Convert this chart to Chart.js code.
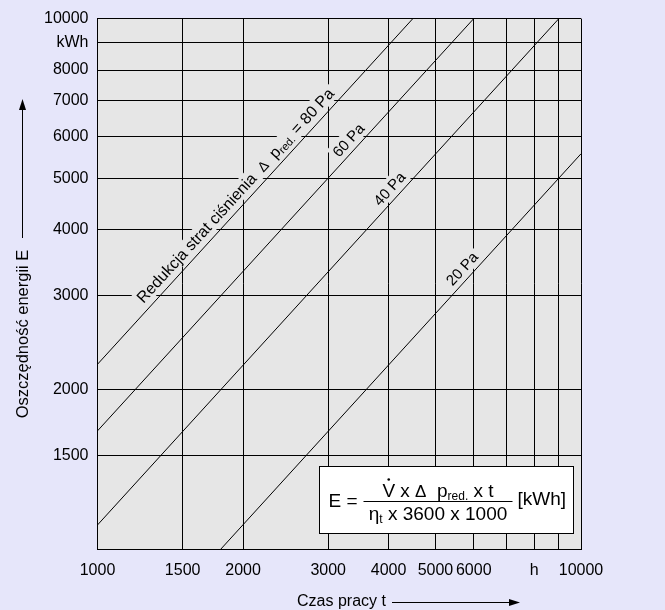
<!DOCTYPE html>
<html>
<head>
<meta charset="utf-8">
<script src="https://cdn.jsdelivr.net/npm/chart.js@4.4.0/dist/chart.umd.min.js"></script>
<style>
  html, body { margin: 0; padding: 0; background: #e6e6fa; }
</style>
</head>
<body>
<canvas id="energyChart" width="665" height="610"></canvas>
<script>
// axis ticks (log scales)
const hourTicks = [1000, 1500, 2000, 3000, 4000, 5000, 6000, 7000, 8000, 9000, 10000];
const hourTickLabels = ["1000", "1500", "2000", "3000", "4000", "5000", "6000", "", "h", "", "10000"];
const energyTicks = [1000, 1500, 2000, 3000, 4000, 5000, 6000, 7000, 8000, 9000, 10000];
const energyTickLabels = ["", "1500", "2000", "3000", "4000", "5000", "6000", "7000", "8000", "kWh", "10000"];

// pressure loss reduction lines
const seriesNames = ["80 Pa", "60 Pa", "40 Pa", "20 Pa"];
const hours80 = [1000, 4490];
const energy80 = [2230, 10000];
const hours60 = [1000, 6000];
const energy60 = [1670, 10000];
const hours40 = [1000, 9000];
const energy40 = [1110, 10000];
const hours20 = [1800, 10000];
const energy20 = [1000, 5560];

const FONT = '"Liberation Sans", Arial, sans-serif';
const PLOT_BG = "#e6e6e6";

function toPoints(hours, energy) {
  return hours.map((h, i) => ({ x: h, y: energy[i] }));
}

function drawRuns(ctx, runs, x, y, align) {
  let w = 0;
  runs.forEach((r) => {
    ctx.font = r.size + "px " + FONT;
    r.w = ctx.measureText(r.text).width;
    w += r.w;
  });
  let cx = align === "center" ? x - w / 2 : x;
  ctx.textAlign = "left";
  runs.forEach((r) => {
    ctx.font = r.size + "px " + FONT;
    ctx.fillText(r.text, cx, y + (r.dy || 0));
    r.x = cx;
    cx += r.w;
  });
  return w;
}

// where each label sits along its line (hours) and how far off the line (px)
const lineLabels = [
  {
    hours: 2010, offset: 12,
    runs: [
      { text: "Redukcja strat ciśnienia  ", size: 16 },
      { text: "Δ", size: 14 },
      { text: "  p", size: 16 },
      { text: "red.", size: 11, dy: 2 },
      { text: " = 80 Pa", size: 16 },
    ],
  },
  { hours: 3430, offset: 11, runs: [{ text: "60 Pa", size: 15 }] },
  { hours: 4170, offset: 11, runs: [{ text: "40 Pa", size: 15 }] },
  { hours: 5890, offset: 11, runs: [{ text: "20 Pa", size: 15 }] },
];

const backgroundPlugin = {
  id: "plotBackground",
  beforeDraw(chart) {
    const { ctx, chartArea: a } = chart;
    ctx.save();
    ctx.fillStyle = PLOT_BG;
    ctx.fillRect(a.left, a.top, a.right - a.left, a.bottom - a.top);
    ctx.restore();
  },
};

const lineLabelPlugin = {
  id: "lineLabels",
  beforeDatasetsDraw(chart) {
    const { ctx } = chart;
    const xs = chart.scales.x;
    const ys = chart.scales.y;
    chart.data.datasets.forEach((ds, i) => {
      const lab = lineLabels[i];
      const a = ds.data[0];
      const b = ds.data[1];
      const f = (Math.log(lab.hours) - Math.log(a.x)) / (Math.log(b.x) - Math.log(a.x));
      const e = Math.exp(Math.log(a.y) + f * (Math.log(b.y) - Math.log(a.y)));
      const px = xs.getPixelForValue(lab.hours);
      const py = ys.getPixelForValue(e);
      const p1x = xs.getPixelForValue(a.x), p1y = ys.getPixelForValue(a.y);
      const p2x = xs.getPixelForValue(b.x), p2y = ys.getPixelForValue(b.y);
      const theta = Math.atan2(p2y - p1y, p2x - p1x);
      const ux = Math.cos(theta), uy = Math.sin(theta);
      const cx = px + uy * lab.offset;
      const cy = py - ux * lab.offset;

      ctx.save();
      ctx.translate(cx, cy);
      ctx.rotate(theta);
      let w = 0;
      lab.runs.forEach((r) => {
        ctx.font = r.size + "px " + FONT;
        w += ctx.measureText(r.text).width;
      });
      ctx.fillStyle = PLOT_BG;
      ctx.fillRect(-w / 2 - 3, -9, w + 6, 18);
      ctx.fillStyle = "#000";
      ctx.textBaseline = "alphabetic";
      drawRuns(ctx, lab.runs, 0, 5.5, "center");
      ctx.restore();
    });
  },
};

const formulaPlugin = {
  id: "formula",
  afterDatasetsDraw(chart) {
    const { ctx, chartArea: a } = chart;
    const left = Math.round(a.right - 262) + 0.5;
    const top = Math.round(a.bottom - 83) + 0.5;
    const w = 254, h = 67;
    ctx.save();
    ctx.fillStyle = "#fff";
    ctx.fillRect(left, top, w, h);
    ctx.strokeStyle = "#000";
    ctx.lineWidth = 1;
    ctx.strokeRect(left, top, w, h);

    ctx.fillStyle = "#000";
    ctx.textBaseline = "alphabetic";
    drawRuns(ctx, [{ text: "E =", size: 19 }], left + 9, top + 40.5, "left");

    const barL = left + 44, barR = left + 193, barY = top + 35;
    ctx.beginPath();
    ctx.moveTo(barL, barY);
    ctx.lineTo(barR, barY);
    ctx.stroke();
    const mid = (barL + barR) / 2;

    const num = [
      { text: "V", size: 19 },
      { text: " x ", size: 19 },
      { text: "Δ", size: 17 },
      { text: "  p", size: 19 },
      { text: "red.", size: 12, dy: 3 },
      { text: " x t", size: 19 },
    ];
    drawRuns(ctx, num, mid, top + 30, "center");
    // dot over V (volume flow)
    ctx.beginPath();
    ctx.arc(num[0].x + num[0].w / 2, top + 13, 1.3, 0, Math.PI * 2);
    ctx.fill();

    const den = [
      { text: "η", size: 19 },
      { text: "t", size: 12, dy: 3 },
      { text: " x 3600 x 1000", size: 19 },
    ];
    drawRuns(ctx, den, mid, top + 53, "center");

    drawRuns(ctx, [{ text: "[kWh]", size: 19 }], barR + 5, top + 38, "left");
    ctx.restore();
  },
};

const axisTitlePlugin = {
  id: "axisTitles",
  afterDraw(chart) {
    const { ctx } = chart;
    ctx.save();
    ctx.fillStyle = "#000";
    ctx.strokeStyle = "#000";
    ctx.lineWidth = 1;

    // y title with arrow pointing up
    ctx.save();
    ctx.translate(23, 334);
    ctx.rotate(-Math.PI / 2);
    ctx.font = "16.5px " + FONT;
    ctx.textAlign = "center";
    ctx.textBaseline = "middle";
    ctx.fillText("Oszczędność energii E", 0, 0);
    ctx.restore();
    ctx.beginPath();
    ctx.moveTo(22.5, 238);
    ctx.lineTo(22.5, 106);
    ctx.stroke();
    ctx.beginPath();
    ctx.moveTo(22.5, 99);
    ctx.lineTo(19, 110);
    ctx.lineTo(26, 110);
    ctx.closePath();
    ctx.fill();

    // x title with arrow pointing right
    ctx.font = "16px " + FONT;
    ctx.textAlign = "left";
    ctx.textBaseline = "middle";
    ctx.fillText("Czas pracy t", 297, 602);
    ctx.beginPath();
    ctx.moveTo(392, 602.5);
    ctx.lineTo(512, 602.5);
    ctx.stroke();
    ctx.beginPath();
    ctx.moveTo(520, 602.5);
    ctx.lineTo(509, 599);
    ctx.lineTo(509, 606);
    ctx.closePath();
    ctx.fill();
    ctx.restore();
  },
};

function makeDataset(name, hours, energy) {
  return {
    label: name,
    data: toPoints(hours, energy),
    showLine: true,
    borderColor: "#000",
    borderWidth: 1,
    pointRadius: 0,
    fill: false,
    tension: 0,
  };
}

const ctx = document.getElementById("energyChart").getContext("2d");

new Chart(ctx, {
  type: "scatter",
  data: {
    datasets: [
      makeDataset(seriesNames[0], hours80, energy80),
      makeDataset(seriesNames[1], hours60, energy60),
      makeDataset(seriesNames[2], hours40, energy40),
      makeDataset(seriesNames[3], hours20, energy20),
    ],
  },
  options: {
    responsive: false,
    animation: false,
    events: [],
    layout: { padding: { top: 17, right: 84, left: 0, bottom: 0 } },
    plugins: {
      legend: { display: false },
      tooltip: { enabled: false },
    },
    scales: {
      x: {
        type: "logarithmic",
        min: 1000,
        max: 10000,
        afterBuildTicks: (s) => {
          s.ticks = hourTicks.map((v) => ({ value: v }));
        },
        afterFit: (s) => {
          s.height = 61;
        },
        ticks: {
          autoSkip: false,
          maxRotation: 0,
          padding: 12,
          color: "#000",
          font: { size: 16, family: FONT },
          callback: (v, i) => hourTickLabels[i],
        },
        grid: { color: "#000", lineWidth: 1, drawTicks: false },
        border: { color: "#000", width: 1 },
      },
      y: {
        type: "logarithmic",
        min: 1000,
        max: 10000,
        afterBuildTicks: (s) => {
          s.ticks = energyTicks.map((v) => ({ value: v }));
        },
        afterFit: (s) => {
          s.width = 97.5;
        },
        ticks: {
          autoSkip: false,
          padding: 9,
          color: "#000",
          font: { size: 16, family: FONT },
          callback: (v, i) => energyTickLabels[i],
        },
        grid: { color: "#000", lineWidth: 1, drawTicks: false },
        border: { color: "#000", width: 1 },
      },
    },
  },
  plugins: [backgroundPlugin, lineLabelPlugin, formulaPlugin, axisTitlePlugin],
});
</script>
</body>
</html>
